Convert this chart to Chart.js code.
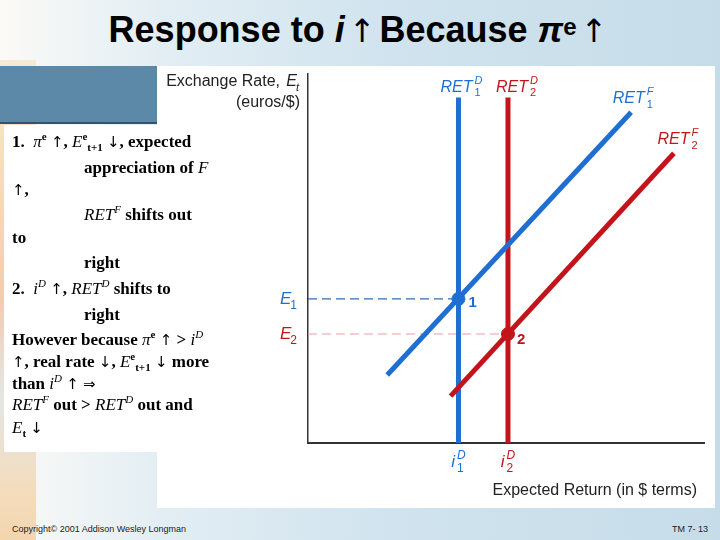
<!DOCTYPE html>
<html>
<head>
<meta charset="utf-8">
<script src="https://cdn.jsdelivr.net/npm/chart.js@4"></script>
<style>
body{margin:0;width:720px;height:540px;overflow:hidden;position:relative;font-family:"Liberation Sans",Arial,sans-serif;
  background:linear-gradient(to right,#fbfaf6 0%,#e3eef4 22%,#d0e3ee 55%,#c6dde9 100%);}
#strip{position:absolute;left:0;top:60px;width:36px;height:480px;
  background:linear-gradient(to bottom,#f6ead6 0%,#f7d9b0 30%,#f4cbb0 50%,#e3e6e4 70%,#f4dcbc 90%,#f3d6b0 100%);}
#title{position:absolute;left:0;top:6px;width:720px;text-align:center;font-weight:bold;font-size:36px;color:#000;line-height:42px}
#title .ar{font-weight:normal;font-family:"DejaVu Sans",sans-serif;font-size:32px;margin:0 4px}
#hdr{position:absolute;left:0;top:66px;width:157px;height:56px;background:#5d89a9;border-bottom:2px solid #34526b}
#textbox{position:absolute;left:4px;top:125px;width:153px;height:327px;background:#fff}
#chartbox{position:absolute;left:157px;top:66px;width:558px;height:442px;background:#fff}
.ln{position:absolute;font-family:"Liberation Serif","Times New Roman",serif;font-weight:bold;font-size:17px;white-space:nowrap;color:#000;line-height:20px;z-index:5}
.m{font-style:italic;font-weight:normal}
.a{font-family:"DejaVu Sans",sans-serif;font-weight:normal;font-size:15px}
sup,sub{font-size:11px;line-height:0}
#foot1{position:absolute;left:12px;top:524px;font-size:9px;color:#222}
#foot2{position:absolute;right:12px;top:524px;font-size:9px;color:#222}
</style>
</head>
<body>
<div id="strip"></div>
<div id="title">Response to <i>i</i><span class="ar">&#8593;</span>Because <i>&#960;</i><span style="font-size:24px;vertical-align:7px">e</span><span class="ar">&#8593;</span></div>
<div id="hdr"></div>
<div id="textbox"></div>
<div id="chartbox"><canvas id="chart" width="558" height="442"></canvas></div>

<div class="ln" style="left:12px;top:132px">1.&nbsp; <span class="m">&#960;</span><sup>e</sup> <span class="a">&#8593;</span>, <span class="m">E</span><sup>e</sup><sub>t+1</sub> <span class="a">&#8595;</span>, expected</div>
<div class="ln" style="left:84px;top:158px">appreciation of <span class="m">F</span></div>
<div class="ln" style="left:12px;top:180px"><span class="a">&#8593;</span>,</div>
<div class="ln" style="left:84px;top:205px"><span class="m">RET</span><sup class="m">F</sup> shifts out</div>
<div class="ln" style="left:12px;top:228px">to</div>
<div class="ln" style="left:84px;top:253px">right</div>
<div class="ln" style="left:12px;top:279px">2.&nbsp; <span class="m">i</span><sup class="m">D</sup> <span class="a">&#8593;</span>, <span class="m">RET</span><sup class="m">D</sup> shifts to</div>
<div class="ln" style="left:84px;top:305px">right</div>
<div class="ln" style="left:12px;top:330px">However because <span class="m">&#960;</span><sup>e</sup> <span class="a">&#8593;</span> &gt; <span class="m">i</span><sup class="m">D</sup></div>
<div class="ln" style="left:12px;top:352px"><span class="a">&#8593;</span>, real rate <span class="a">&#8595;</span>, <span class="m">E</span><sup>e</sup><sub>t+1</sub> <span class="a">&#8595;</span> more</div>
<div class="ln" style="left:12px;top:374px">than <span class="m">i</span><sup class="m">D</sup> <span class="a">&#8593;</span> <span class="a">&#8658;</span></div>
<div class="ln" style="left:12px;top:395px"><span class="m">RET</span><sup class="m">F</sup> out &gt; <span class="m">RET</span><sup class="m">D</sup> out and</div>
<div class="ln" style="left:12px;top:418px"><span class="m">E</span><sub>t</sub> <span class="a">&#8595;</span></div>

<div id="foot1">Copyright&copy; 2001 Addison Wesley Longman</div>
<div id="foot2">TM 7- 13</div>

<script>
// curve values (axes run 0..100 both ways)
const iD1 = 38;
const iD2 = 50.5;
const E1 = 39;
const E2 = 29.5;
const retD1 = [{x: iD1, y: 0}, {x: iD1, y: 93.5}];
const retD2 = [{x: iD2, y: 0}, {x: iD2, y: 93.5}];
const retF1 = [{x: 20, y: 18.4}, {x: 81.6, y: 89.5}];
const retF2 = [{x: 36, y: 12.7}, {x: 92.4, y: 78.4}];
const guideE1 = [{x: 0, y: E1}, {x: iD1, y: E1}];
const guideE2 = [{x: 0, y: E2}, {x: iD2, y: E2}];
const eq1 = [{x: iD1, y: E1}];
const eq2 = [{x: iD2, y: E2}];

const BLUE = '#1f6fd2';
const RED = '#c3141c';
const SANS = '"Liberation Sans", Arial, sans-serif';

// base text with stacked superscript / subscript
function supSub(ctx, base, sup, sub, x, y, color, size, align) {
    ctx.fillStyle = color;
    ctx.font = 'italic ' + size + 'px ' + SANS;
    const bw = ctx.measureText(base).width;
    ctx.font = 'italic ' + Math.round(size * 0.7) + 'px ' + SANS;
    const sw = Math.max(sup ? ctx.measureText(sup).width : 0, sub ? ctx.measureText(sub).width : 0);
    const gap = sup ? 2 : 0;
    const total = bw + gap + sw;
    let x0 = x;
    if (align === 'center') x0 = x - total / 2;
    if (align === 'right') x0 = x - total;
    ctx.textAlign = 'left';
    ctx.textBaseline = 'alphabetic';
    ctx.font = 'italic ' + size + 'px ' + SANS;
    ctx.fillText(base, x0, y);
    if (sup) {
        ctx.font = 'italic ' + Math.round(size * 0.7) + 'px ' + SANS;
        ctx.fillText(sup, x0 + bw + gap, y - size * 0.5);
    }
    if (sub) {
        // letters italic, digits upright
        ctx.font = (/[a-z]/.test(sub) ? 'italic ' : '') + Math.round(size * 0.7) + 'px ' + SANS;
        ctx.fillText(sub, x0 + bw + gap - (sup ? 0 : 1), y + size * 0.3);
    }
}

const labelPlugin = {
    id: 'labels',
    afterDraw(chart) {
        const ctx = chart.ctx;
        const xs = chart.scales.x, ys = chart.scales.y;
        const left = xs.left, bottom = ys.bottom;
        ctx.save();
        // axis titles
        ctx.fillStyle = '#222';
        ctx.font = '16px ' + SANS;
        ctx.textAlign = 'right';
        ctx.textBaseline = 'alphabetic';
        ctx.fillText('(euros/$)', left - 8, 41);
        ctx.fillText('Expected Return (in $ terms)', xs.right - 7, bottom + 52);
        ctx.font = '16px ' + SANS;
        ctx.fillText('Exchange Rate,', left - 8 - 20, 20);
        supSub(ctx, 'E', null, 't', left - 8, 20, '#222', 16, 'right');

        // curve names
        supSub(ctx, 'RET', 'D', '1', xs.getPixelForValue(iD1) + 3, ys.getPixelForValue(93.5) - 6, BLUE, 16, 'center');
        supSub(ctx, 'RET', 'D', '2', xs.getPixelForValue(iD2) + 9, ys.getPixelForValue(93.5) - 6, RED, 16, 'center');
        supSub(ctx, 'RET', 'F', '1', xs.getPixelForValue(81.6) + 2, ys.getPixelForValue(89.5) - 9, BLUE, 16, 'center');
        supSub(ctx, 'RET', 'F', '2', xs.getPixelForValue(92.4) + 4, ys.getPixelForValue(78.4) - 9, RED, 16, 'center');

        // axis markers
        supSub(ctx, 'E', null, '1', left - 10, ys.getPixelForValue(E1) + 5, BLUE, 17, 'right');
        supSub(ctx, 'E', null, '2', left - 10, ys.getPixelForValue(E2) + 5, RED, 17, 'right');
        supSub(ctx, 'i', 'D', '1', xs.getPixelForValue(iD1), bottom + 24, BLUE, 17, 'center');
        supSub(ctx, 'i', 'D', '2', xs.getPixelForValue(iD2), bottom + 24, RED, 17, 'center');

        // equilibrium numbers
        ctx.font = 'bold 15px ' + SANS;
        ctx.textAlign = 'left';
        ctx.textBaseline = 'middle';
        ctx.fillStyle = BLUE;
        ctx.fillText('1', xs.getPixelForValue(iD1) + 10, ys.getPixelForValue(E1) + 4);
        ctx.fillStyle = RED;
        ctx.fillText('2', xs.getPixelForValue(iD2) + 9, ys.getPixelForValue(E2) + 6);
        ctx.restore();
    }
};

function lineSet(data, color, width, dash) {
    return {
        type: 'line', data: data, borderColor: color, borderWidth: width,
        borderDash: dash || [], pointRadius: 0, fill: false, tension: 0
    };
}

new Chart(document.getElementById('chart').getContext('2d'), {
    type: 'scatter',
    data: {
        datasets: [
            {type: 'scatter', data: eq1, backgroundColor: BLUE, borderColor: BLUE, pointRadius: 6.5},
            {type: 'scatter', data: eq2, backgroundColor: RED, borderColor: RED, pointRadius: 6.5},
            lineSet(retF1, BLUE, 5),
            lineSet(retF2, RED, 5),
            lineSet(retD1, BLUE, 5),
            lineSet(retD2, RED, 5),
            lineSet(guideE1, '#2a6fb8', 1.2, [9, 5]),
            lineSet(guideE2, '#eaa0a4', 1.2, [9, 5])
        ]
    },
    options: {
        responsive: false,
        animation: false,
        devicePixelRatio: 1,
        layout: {padding: {left: 151, top: 7, right: 11, bottom: 65}},
        plugins: {legend: {display: false}, tooltip: {enabled: false}},
        scales: {
            x: {
                type: 'linear', min: 0, max: 100,
                grid: {display: false, drawTicks: false},
                ticks: {display: false},
                border: {display: true, color: '#333', width: 2}
            },
            y: {
                type: 'linear', min: 0, max: 100,
                grid: {display: false, drawTicks: false},
                ticks: {display: false},
                border: {display: true, color: '#333', width: 1.5}
            }
        }
    },
    plugins: [labelPlugin]
});
</script>
</body>
</html>
